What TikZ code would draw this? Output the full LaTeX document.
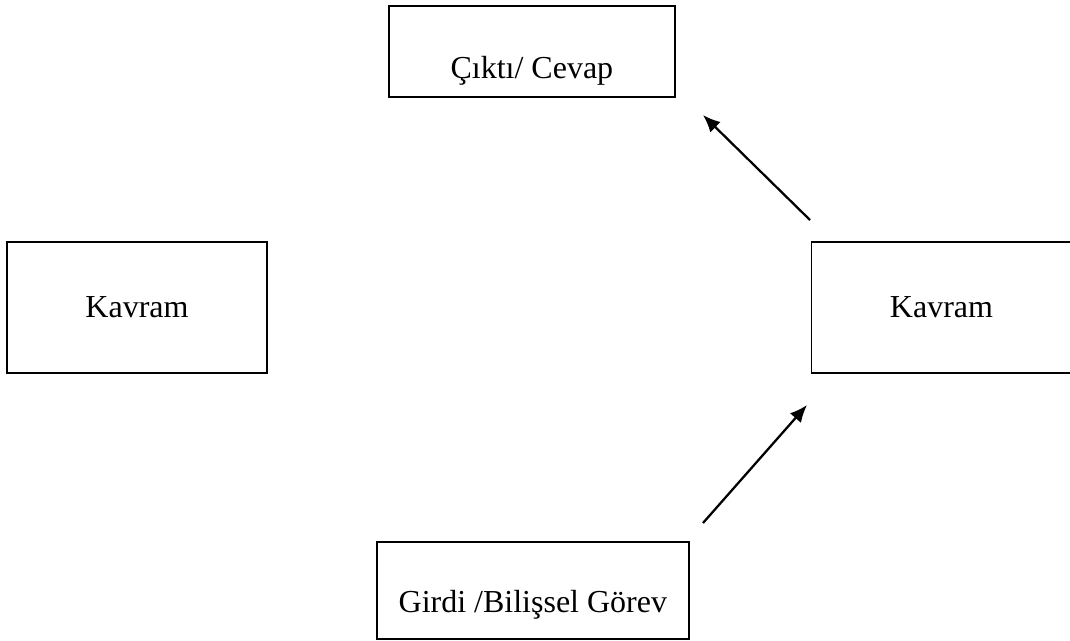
\documentclass[tikz,border=0pt]{standalone}
\usepackage{fontspec}
\setmainfont{Liberation Serif}
\usetikzlibrary{arrows.meta}
\tikzset{
  box/.style={draw,line width=1.3pt,inner sep=0pt,font=\fontsize{24pt}{28pt}\selectfont},
  concept/.style={box,minimum width=195pt,minimum height=98.25pt},
  link/.style={->,line width=1.7pt},
}

\begin{document}
\begin{tikzpicture}[x=0.75pt,y=-0.75pt,>={Latex[length=13pt,width=11pt]}]
  \useasboundingbox (0,0) rectangle (1070,641);

  \node[concept] (K1) at (137,307.5) {Kavram};
  \node[concept] (K2) at (941.5,307.5) {Kavram};
  \node[box,anchor=north west,minimum width=214.5pt,text height=54.75pt,text depth=13.5pt]
    (out) at (388,5) {Çıktı/ Cevap};
  \node[box,anchor=north west,minimum width=234pt,text height=53.25pt,text depth=19.5pt]
    (in) at (376,541) {Girdi /Bilişsel Görev};

  \coordinate (a1) at (810,220);
  \coordinate (a2) at (703,115);
  \coordinate (b1) at (703,523);
  \coordinate (b2) at (807,405);

  \draw[link] (a1) -- (a2);
  \draw[link] (b1) -- (b2);
\end{tikzpicture}
\end{document}
